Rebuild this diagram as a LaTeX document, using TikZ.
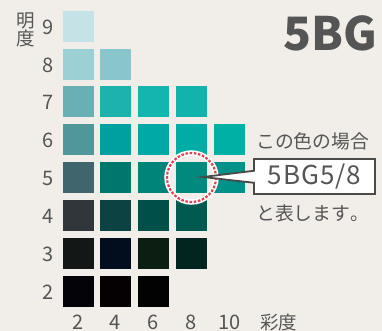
\documentclass[tikz,border=0pt]{standalone}
\usepackage{fontspec}
\setmainfont{Noto Sans CJK JP}
\newfontfamily\callfont{Noto Sans CJK JP}[LetterSpace=4]
\newfontfamily\jpfont{Noto Sans CJK JP}[Kerning=Off]
\usetikzlibrary{shapes.callouts}
\definecolor{bg}{HTML}{F1EEEA}
\definecolor{txt}{HTML}{555555}
\definecolor{ring}{HTML}{E0424E}
\definecolor{edge}{HTML}{4A4A4A}
\begin{document}
\begin{tikzpicture}[x=1pt,y=-1pt,
  sq/.style={minimum size=31pt, inner sep=0pt, outer sep=0pt},
  num/.style={text=txt, font=\fontsize{20}{20}\selectfont, inner sep=0pt},
  jp/.style={text=txt, font=\jpfont\fontsize{18.5}{18.5}\selectfont, inner sep=0pt},
  jpl/.style={text=txt, font=\jpfont\fontsize{18.8}{18.8}\selectfont, inner sep=0pt},
  callbox/.style={rectangle callout, draw=edge, line width=1.8pt, fill=white,
    minimum width=121pt, minimum height=35pt, inner sep=0pt, text=txt,
    font=\callfont\fontsize{26}{26}\selectfont, callout pointer width=12pt}]
\fill[bg] (0,0) rectangle (382,331);
\useasboundingbox (0,0) rectangle (382,331);
% row 9
\node[sq, fill={rgb,255:red,197;green,226;blue,230}] (r9c2) at (78.5,26.5) {};
% row 8
\node[sq, fill={rgb,255:red,157;green,208;blue,212}] (r8c2) at (78.5,64.5) {};
\node[sq, fill={rgb,255:red,136;green,198;blue,204}] (r8c4) at (115.5,64.5) {};
% row 7
\node[sq, fill={rgb,255:red,106;green,175;blue,180}] (r7c2) at (78.5,101.5) {};
\node[sq, fill={rgb,255:red,29;green,178;blue,172}] (r7c4) at (115.5,101.5) {};
\node[sq, fill={rgb,255:red,20;green,181;blue,174}] (r7c6) at (153.5,101.5) {};
\node[sq, fill={rgb,255:red,18;green,178;blue,173}] (r7c8) at (191.5,101.5) {};
% row 6
\node[sq, fill={rgb,255:red,81;green,150;blue,152}] (r6c2) at (78.5,139.5) {};
\node[sq, fill={rgb,255:red,0;green,160;blue,160}] (r6c4) at (115.5,139.5) {};
\node[sq, fill={rgb,255:red,0;green,169;blue,166}] (r6c6) at (153.5,139.5) {};
\node[sq, fill={rgb,255:red,0;green,172;blue,166}] (r6c8) at (191.5,139.5) {};
\node[sq, fill={rgb,255:red,0;green,176;blue,165}] (r6c10) at (229.5,139.5) {};
% row 5
\node[sq, fill={rgb,255:red,65;green,101;blue,108}] (r5c2) at (78.5,177.5) {};
\node[sq, fill={rgb,255:red,0;green,119;blue,109}] (r5c4) at (115.5,177.5) {};
\node[sq, fill={rgb,255:red,0;green,132;blue,121}] (r5c6) at (153.5,177.5) {};
\node[sq, fill={rgb,255:red,0;green,138;blue,126}] (r5c8) at (191.5,177.5) {};
\node[sq, fill={rgb,255:red,0;green,145;blue,136}] (r5c10) at (229.5,177.5) {};
% row 4
\node[sq, fill={rgb,255:red,48;green,54;blue,58}] (r4c2) at (78.5,215.5) {};
\node[sq, fill={rgb,255:red,13;green,66;blue,67}] (r4c4) at (115.5,215.5) {};
\node[sq, fill={rgb,255:red,0;green,80;blue,74}] (r4c6) at (153.5,215.5) {};
\node[sq, fill={rgb,255:red,0;green,90;blue,80}] (r4c8) at (191.5,215.5) {};
% row 3
\node[sq, fill={rgb,255:red,19;green,23;blue,21}] (r3c2) at (78.5,253.5) {};
\node[sq, fill={rgb,255:red,2;green,14;blue,29}] (r3c4) at (115.5,253.5) {};
\node[sq, fill={rgb,255:red,12;green,29;blue,18}] (r3c6) at (153.5,253.5) {};
\node[sq, fill={rgb,255:red,3;green,37;blue,32}] (r3c8) at (191.5,253.5) {};
% row 2
\node[sq, fill={rgb,255:red,4;green,3;blue,8}] (r2c2) at (78.5,291.5) {};
\node[sq, fill={rgb,255:red,5;green,1;blue,2}] (r2c4) at (115.5,291.5) {};
\node[sq, fill={rgb,255:red,3;green,2;blue,2}] (r2c6) at (153.5,291.5) {};
% value labels
\node[num] (v9) at (48,27) {9};
\node[num] (v8) at (48,65) {8};
\node[num] (v7) at (48,102) {7};
\node[num] (v6) at (48,140) {6};
\node[num] (v5) at (48,178) {5};
\node[num] (v4) at (48,216) {4};
\node[num] (v3) at (48,254) {3};
\node[num] (v2) at (48,292) {2};
\node[jp] (mei) at (26,21) {明};
\node[jp] (do) at (26,38) {度};
% chroma labels
\node[num] (c2) at (78.5,322) {2};
\node[num] (c4) at (115.5,322) {4};
\node[num] (c6) at (153.5,322) {6};
\node[num] (c8) at (191.5,322) {8};
\node[num] (c10) at (229.5,322) {10};
\node[jp] (saido) at (278.5,322) {彩度};
% title
\node[text=txt, font=\fontsize{46}{46}\selectfont\bfseries, inner sep=0pt] (title) at (330.5,33) {5BG};
% highlight ring
\draw[white, line width=5.5pt] (r5c8.center) circle (24.5);
\draw[ring, line width=2.2pt, dash pattern=on 2.6pt off 1.6pt] (r5c8.center) circle (24.5);
% callout
\coordinate (tip) at (203,177);
\node[callbox, callout absolute pointer=(tip)] (box) at (314.5,176.5) {5BG5/8};
\node[jpl, anchor=west] (t1) at (256,141.5) {この色の場合};
\node[jpl, anchor=west] (t2) at (256,213.5) {と表します。};
\end{tikzpicture}
\end{document}
